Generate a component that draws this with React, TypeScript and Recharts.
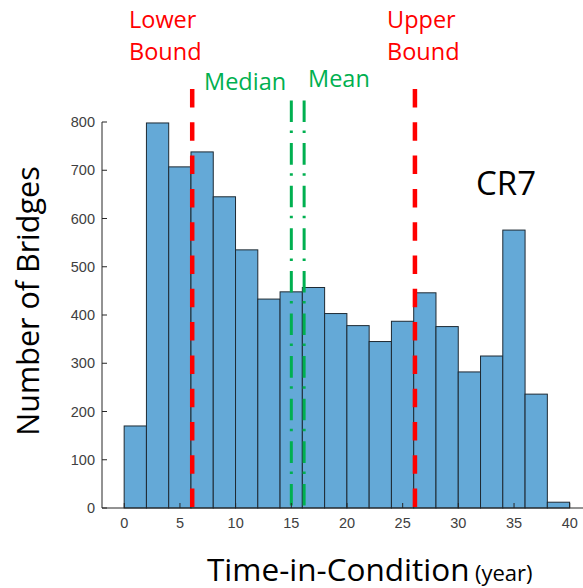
import { ComposedChart, Bar, XAxis, YAxis, ReferenceLine } from "recharts";

// histogram bins (2-year width) and counts
const binStarts = [0, 2, 4, 6, 8, 10, 12, 14, 16, 18, 20, 22, 24, 26, 28, 30, 32, 34, 36, 38];
const counts = [170, 798, 707, 738, 645, 535, 433, 448, 457, 403, 378, 345, 387, 446, 376, 282, 315, 576, 236, 12];
const binWidth = 2;

const xTicks = [0, 5, 10, 15, 20, 25, 30, 35, 40];
const yTicks = [0, 100, 200, 300, 400, 500, 600, 700, 800];

const boundValues = [6.1, 26.1]; // lower, upper
const medianValue = 15.0;
const meanValue = 16.15;

const data = binStarts.map((s, i) => ({ mid: s + binWidth / 2, count: counts[i] }));

const W = 600;
const H = 588;
const margin = { top: 122, right: 8, bottom: 50, left: 42 };
const yAxisW = 60;
const xDomain: [number, number] = [-2, 42];
const plotW = W - margin.left - margin.right - yAxisW;
const barPx = (plotW / (xDomain[1] - xDomain[0])) * binWidth;

const axisColor = "#262626";
const tickFont = { fontFamily: "Liberation Sans, Arial, sans-serif", fontSize: 14.5, fill: "#404040" };
const textFont = "Open Sans, sans-serif";

function vline(color: string, width: number, dash: string, extra: number) {
  return (p: any) => {
    const top = Math.min(p.y1, p.y2) - extra;
    const bottom = Math.max(p.y1, p.y2);
    return (
      <line
        x1={p.x1}
        x2={p.x1}
        y1={top}
        y2={bottom}
        stroke={color}
        strokeWidth={width}
        strokeDasharray={dash}
      />
    );
  };
}

// draw each bar at the full bin width, centred on its bin midpoint
function BinRect(p: any) {
  if (p.height == null || p.width == null) return null;
  const cx = p.x + p.width / 2;
  return (
    <rect
      x={cx - barPx / 2}
      y={p.y}
      width={barPx}
      height={p.height}
      fill="#64a9d7"
      stroke="#1e2a33"
      strokeWidth={1}
    />
  );
}

export default function App() {
  return (
    <div style={{ position: "absolute", left: 0, top: 0, width: 583, height: 588, overflow: "hidden", background: "#fff" }}>
      <ComposedChart width={W} height={H} data={data} margin={margin} barGap={0} barCategoryGap={0}>
        <XAxis
          dataKey="mid"
          type="number"
          domain={xDomain}
          ticks={xTicks}
          interval={0}
          allowDataOverflow
          height={30}
          tickSize={-5}
          tickMargin={15}
          stroke={axisColor}
          tick={tickFont}
        />
        <XAxis
          xAxisId="top"
          orientation="top"
          type="number"
          domain={xDomain}
          ticks={xTicks}
          interval={0}
          allowDataOverflow
          height={0}
          tickSize={-5}
          tick={false}
          stroke={axisColor}
        />
        <YAxis
          domain={[0, 800]}
          ticks={yTicks}
          interval={0}
          width={yAxisW}
          tickSize={-5}
          tickMargin={12}
          stroke={axisColor}
          tick={tickFont}
        />
        <Bar
          dataKey="count"
          fill="#64a9d7"
          stroke="#1e2a33"
          strokeWidth={1}
          barSize={barPx}
          shape={BinRect}
          isAnimationActive={false}
        />
        {boundValues.map((v) => (
          <ReferenceLine key={v} x={v} shape={vline("#ff0000", 4.5, "18.5 14.8", 33)} />
        ))}
        <ReferenceLine x={medianValue} shape={vline("#00b050", 3, "21.6 8.5 2.5 10", 21.5)} />
        <ReferenceLine x={meanValue} shape={vline("#00b050", 3, "21.6 8.5 2.5 10", 21.5)} />
      </ComposedChart>
      <svg
        width={583}
        height={588}
        style={{ position: "absolute", left: 0, top: 0, pointerEvents: "none" }}
        fontFamily={textFont}
      >
        <text x={129} y={28} fontSize={23.5} fill="#ff0000">Lower</text>
        <text x={129} y={60} fontSize={23.5} fill="#ff0000">Bound</text>
        <text x={387} y={28} fontSize={23.5} fill="#ff0000">Upper</text>
        <text x={387} y={60} fontSize={23.5} fill="#ff0000">Bound</text>
        <text x={204} y={90} fontSize={23.5} fill="#00b050">Median</text>
        <text x={308} y={87} fontSize={23.5} fill="#00b050">Mean</text>
        <text x={476} y={195} fontSize={33} fill="#000">CR7</text>
        <text
          x={0}
          y={0}
          fontSize={30.5}
          fill="#000"
          textAnchor="middle"
          transform="translate(39 301) rotate(-90)"
        >
          Number of Bridges
        </text>
        <text x={207} y={580.5} fontSize={31.5} fill="#000">Time-in-Condition</text>
        <text x={475} y={580.5} fontSize={22} fill="#000">(year)</text>
      </svg>
    </div>
  );
}
